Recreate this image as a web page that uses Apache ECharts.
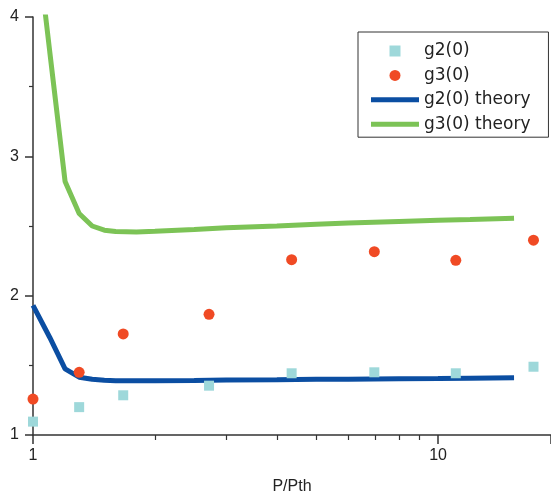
<!DOCTYPE html>
<html>
<head>
<meta charset="utf-8">
<script src="https://cdn.jsdelivr.net/npm/echarts@6/dist/echarts.min.js"></script>
<style>
html,body{margin:0;padding:0;background:#fff;}
#chart{width:551px;height:496px;}
</style>
</head>
<body>
<div id="chart"></div>
<script>
// Measured data (P/Pth)
const expX = [1.0, 1.3, 1.67, 2.72, 4.35, 6.96, 11.06, 17.2];
const g2Values = [1.096, 1.20, 1.285, 1.354, 1.443, 1.45, 1.443, 1.49];
const g3Values = [1.258, 1.45, 1.725, 1.866, 2.258, 2.316, 2.254, 2.398];

// Theory curves
const theoryX = [1.0, 1.1, 1.2, 1.3, 1.4, 1.5, 1.6, 1.8, 2.0, 2.5, 3, 4, 5, 6, 8, 10, 12, 15.4];
const g2Theory = [1.93, 1.70, 1.475, 1.415, 1.40, 1.393, 1.39, 1.39, 1.39, 1.392, 1.394, 1.397, 1.40, 1.401, 1.404, 1.406, 1.408, 1.41];
const g3Theory = [4.78, 3.75, 2.82, 2.59, 2.50, 2.47, 2.46, 2.457, 2.462, 2.475, 2.487, 2.50, 2.513, 2.522, 2.533, 2.541, 2.547, 2.556];

const seriesNames = ['g2(0)', 'g3(0)', 'g2(0) theory', 'g3(0) theory'];
const yTicks = [1, 2, 3, 4];
const xTicks = [1, 10];

const pair = (xs, ys) => xs.map((x, i) => [x, ys[i]]);

const squareIcon = 'path://M0,0h10v10h-10z';
const lineIcon = 'path://M0,0h48v5h-48z';

const chart = echarts.init(document.getElementById('chart'), null, {renderer: 'canvas'});
chart.setOption({
  animation: false,
  backgroundColor: '#ffffff',
  grid: {left: 33, right: 0, top: 17, bottom: 61, containLabel: false, outerBoundsMode: 'none'},
  xAxis: {
    type: 'log',
    logBase: 10,
    min: 1,
    max: 19,
    name: 'P/Pth',
    nameLocation: 'middle',
    nameGap: 44,
    nameTextStyle: {fontFamily: 'Liberation Sans', fontSize: 16, color: '#222'},
    axisLine: {show: true, lineStyle: {color: '#333', width: 1.5}},
    axisTick: {show: true, inside: false, length: 9, lineStyle: {color: '#333', width: 1.5}},
    minorTick: {show: true, splitNumber: 9, length: 5, lineStyle: {color: '#333', width: 1.2}},
    axisLabel: {
      fontFamily: 'Liberation Sans', fontSize: 16, color: '#222', margin: 13,
      formatter: v => (xTicks.indexOf(Math.round(v)) >= 0 ? String(Math.round(v)) : '')
    },
    splitLine: {show: false}
  },
  yAxis: {
    type: 'value',
    min: 1,
    max: 4,
    interval: 1,
    axisLine: {show: true, lineStyle: {color: '#333', width: 1.5}},
    axisTick: {show: true, inside: false, length: 8, lineStyle: {color: '#333', width: 1.5}},
    minorTick: {show: true, splitNumber: 2, length: 4, lineStyle: {color: '#333', width: 1.2}},
    axisLabel: {
      fontFamily: 'Liberation Sans', fontSize: 16, color: '#222', margin: 14,
      formatter: v => (yTicks.indexOf(v) >= 0 ? String(v) : '')
    },
    splitLine: {show: false}
  },
  legend: {
    orient: 'vertical',
    left: 358,
    top: 32,
    padding: [9, 18, 3, 13],
    itemWidth: 48,
    itemHeight: 11,
    itemGap: 4.4,
    symbolKeepAspect: true,
    borderColor: '#333',
    borderWidth: 1,
    backgroundColor: '#fff',
    textStyle: {fontFamily: 'DejaVu Sans', fontSize: 17, color: '#222', lineHeight: 20},
    data: [
      {name: seriesNames[0], icon: squareIcon},
      {name: seriesNames[1], icon: 'circle'},
      {name: seriesNames[2], icon: lineIcon},
      {name: seriesNames[3], icon: lineIcon}
    ]
  },
  series: [
    {
      name: seriesNames[0], type: 'scatter', symbol: 'rect', symbolSize: 10,
      itemStyle: {color: '#9ed8da', opacity: 1}, data: pair(expX, g2Values), z: 3
    },
    {
      name: seriesNames[1], type: 'scatter', symbol: 'circle', symbolSize: 11,
      itemStyle: {color: '#f04a24', opacity: 1}, data: pair(expX, g3Values), z: 3
    },
    {
      name: seriesNames[2], type: 'line', symbol: 'none', showSymbol: false,
      lineStyle: {color: '#0b4ea2', width: 5}, itemStyle: {color: '#0b4ea2'},
      data: pair(theoryX, g2Theory), z: 2
    },
    {
      name: seriesNames[3], type: 'line', symbol: 'none', showSymbol: false,
      lineStyle: {color: '#7cc356', width: 5}, itemStyle: {color: '#7cc356'},
      data: pair(theoryX, g3Theory), z: 2
    }
  ]
});
</script>
</body>
</html>
